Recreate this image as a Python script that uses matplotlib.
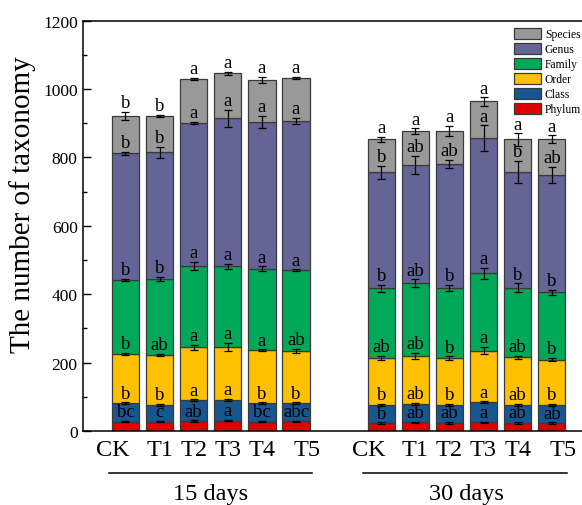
import numpy as np
import matplotlib
matplotlib.use("Agg")
import matplotlib.pyplot as plt
from matplotlib.patches import Patch
import matplotlib.transforms as mtransforms

plt.rcParams['font.family'] = ['Liberation Serif', 'DejaVu Serif']
plt.rcParams['mathtext.fontset'] = 'stix'

# ---- data -----------------------------------------------------------------
treatments = ["CK", "T1", "T2", "T3", "T4", "T5"]
groups = ["15 days", "30 days"]
levels = ["Phylum", "Class", "Order", "Family", "Genus", "Species"]

# number of taxa per level (stack segments), 15 days
phylum_15 = [27, 27, 29, 30, 27, 28]
class_15 = [54, 50, 61, 61, 54, 53]
order_15 = [144, 146, 155, 155, 156, 153]
family_15 = [218, 222, 238, 236, 238, 236]
genus_15 = [369, 370, 418, 433, 428, 437]
species_15 = [109, 107, 129, 131, 124, 125]

# number of taxa per level (stack segments), 30 days
phylum_30 = [23, 25, 24, 25, 24, 23]
class_30 = [53, 54, 52, 59, 52, 53]
order_30 = [137, 141, 137, 151, 140, 133]
family_30 = [205, 212, 205, 227, 203, 197]
genus_30 = [339, 346, 363, 394, 338, 343]
species_30 = [96, 99, 97, 108, 96, 104]

# standard errors
err_phylum_15 = [2, 2, 2, 2, 2, 2]
err_class_15 = [3, 3, 3, 3, 3, 3]
err_order_15 = [3, 3, 7, 11, 2, 6]
err_family_15 = [3, 6, 11, 7, 7, 3]
err_genus_15 = [5, 16, 3, 25, 18, 9]
err_species_15 = [12, 3, 3, 5, 9, 3]

err_phylum_30 = [2, 2, 2, 2, 2, 2]
err_class_30 = [3, 3, 3, 3, 3, 3]
err_order_30 = [6, 9, 5, 11, 4, 5]
err_family_30 = [10, 12, 9, 16, 13, 7]
err_genus_30 = [19, 26, 13, 38, 33, 24]
err_species_30 = [8, 8, 14, 12, 18, 12]

# significance letters
sig_phylum_15 = ["bc", "c", "ab", "a", "bc", "abc"]
sig_class_15 = ["b", "b", "a", "a", "b", "b"]
sig_order_15 = ["b", "ab", "a", "a", "a", "ab"]
sig_family_15 = ["b", "b", "a", "a", "a", "a"]
sig_genus_15 = ["b", "b", "a", "a", "a", "a"]
sig_species_15 = ["b", "b", "a", "a", "a", "a"]

sig_phylum_30 = ["b", "ab", "ab", "a", "ab", "ab"]
sig_class_30 = ["b", "ab", "b", "a", "ab", "b"]
sig_order_30 = ["ab", "ab", "b", "a", "ab", "b"]
sig_family_30 = ["b", "ab", "b", "a", "b", "b"]
sig_genus_30 = ["b", "ab", "ab", "a", "b", "ab"]
sig_species_30 = ["a", "a", "a", "a", "a", "a"]

colors = {
    "Phylum": "#E00000",
    "Class": "#17568F",
    "Order": "#FFC000",
    "Family": "#00A859",
    "Genus": "#646496",
    "Species": "#999999",
}

# ---- figure ---------------------------------------------------------------
fig = plt.figure(figsize=(5.82, 5.06), dpi=100)
ax = fig.add_axes([0.1431, 0.1462, 0.8569, 0.8109])

pos_15 = np.arange(1, 7, dtype=float)
pos_30 = pos_15 + 7.5
width = 0.8

datasets = [
    (pos_15,
     [phylum_15, class_15, order_15, family_15, genus_15, species_15],
     [err_phylum_15, err_class_15, err_order_15, err_family_15, err_genus_15, err_species_15],
     [sig_phylum_15, sig_class_15, sig_order_15, sig_family_15, sig_genus_15, sig_species_15]),
    (pos_30,
     [phylum_30, class_30, order_30, family_30, genus_30, species_30],
     [err_phylum_30, err_class_30, err_order_30, err_family_30, err_genus_30, err_species_30],
     [sig_phylum_30, sig_class_30, sig_order_30, sig_family_30, sig_genus_30, sig_species_30]),
]

for pos, segs, errs, sigs in datasets:
    bottom = np.zeros(len(pos))
    for lev, seg, err, sig in zip(levels, segs, errs, sigs):
        seg = np.asarray(seg, dtype=float)
        ax.bar(pos, seg, width, bottom=bottom, color=colors[lev],
               edgecolor="#3a3a3a", linewidth=0.9, zorder=2)
        top = bottom + seg
        ax.errorbar(pos, top, yerr=err, fmt="none", ecolor="black",
                    elinewidth=0.9, capsize=3.2, capthick=0.9, zorder=3)
        for x, t, e, s in zip(pos, top, err, sig):
            ax.annotate(s, (x, t + e), xytext=(0, 0.5),
                        textcoords="offset points", ha="center",
                        va="bottom", fontsize=13.5, zorder=4)
        bottom = top

# ---- axes styling -----------------------------------------------------------
ax.set_ylim(0, 1200)
ax.set_xlim(-0.2375, 14.387)
ax.set_yticks(np.arange(0, 1201, 200))
ax.set_yticks(np.arange(100, 1200, 200), minor=True)
ax.tick_params(axis="y", which="major", direction="in", length=5.5,
               width=1.0, labelsize=12.5, pad=4)
ax.tick_params(axis="y", which="minor", direction="in", length=3,
               width=1.0)

label_shift = np.array([-0.37, 0, 0, 0, 0, 0.32])
tick_pos = np.concatenate([pos_15 + label_shift, pos_30 + label_shift])
ax.set_xticks(tick_pos)
ax.set_xticklabels(treatments * 2, fontsize=17.5)
ax.tick_params(axis="x", which="both", length=0, pad=6)

ax.spines["right"].set_visible(False)
for sp in ["left", "top", "bottom"]:
    ax.spines[sp].set_linewidth(1.1)

# group underline and caption
trans = mtransforms.blended_transform_factory(ax.transData, ax.transAxes)
for (x0, x1), name, xc in zip([(0.516, 6.469), (7.965, 13.947)], groups,
                              [pos_15.mean(), pos_30.mean()]):
    ax.plot([x0, x1], [-0.1024, -0.1024], color="black", lw=1.1,
            transform=trans, clip_on=False)
    ax.text(xc, -0.153, name, transform=trans, ha="center", va="center",
            fontsize=17.5)

fig.text(23 / 582, 0.595, "The number of taxonomy", rotation=90,
         ha="center", va="center", fontsize=21)

handles = [Patch(facecolor=colors[l], edgecolor="#3a3a3a", linewidth=0.9,
                 label=l) for l in levels[::-1]]
ax.legend(handles=handles, loc="upper right", bbox_to_anchor=(0.998, 0.982),
          frameon=False, fontsize=8.4, handlelength=2.3, handleheight=1.05,
          handletextpad=0.35, labelspacing=0.22, borderpad=0,
          borderaxespad=0)

fig.savefig("out.png", dpi=100)
